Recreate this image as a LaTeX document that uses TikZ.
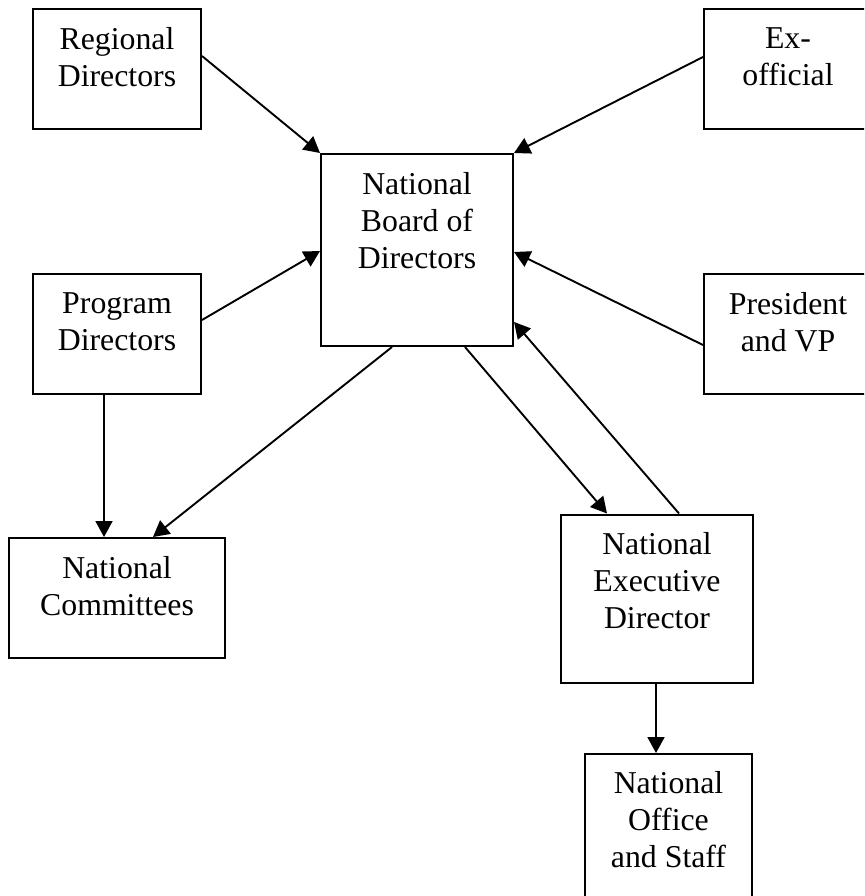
\documentclass[tikz,border=0pt]{standalone}
\usepackage{fontspec}
\setmainfont{Liberation Serif}
\usetikzlibrary{arrows.meta}
\tikzset{
  box/.style={draw, line width=2pt, inner sep=0pt, rectangle},
  wide/.style={minimum width=168pt, minimum height=120pt},
  tall/.style={minimum width=192pt, minimum height=168pt},
  boxtext/.style={anchor=north, align=center, inner sep=0pt, font=\fontsize{31.8}{37}\selectfont},
  arr/.style={line width=1.9pt, -{Triangle[length=16pt,width=17pt]}}
}
\begin{document}
\begin{tikzpicture}[x=1pt, y=-1pt]
\useasboundingbox (0,0) rectangle (864,896);
\clip (0,0) rectangle (864,896);
% boxes
\node[box, wide] (reg) at (117,69) {};
\node[box, wide] (ex) at (788,69) {};
\node[box, minimum width=192pt, minimum height=192pt] (board) at (417,250) {};
\node[box, wide] (prog) at (117,334) {};
\node[box, wide] (pres) at (788,334) {};
\node[box, minimum width=216pt, minimum height=120pt] (comm) at (117,598) {};
\node[box, tall] (ned) at (657,598.5) {};
\node[box, tall, minimum width=167pt] (off) at (668.5,838) {};
% texts
\node[boxtext] (regT) at ([yshift=-19pt]reg.north) {Regional\\Directors};
\node[boxtext] (exT) at ([yshift=-19.5pt]ex.north) {Ex-\\official};
\node[boxtext] (boardT) at ([yshift=-19pt]board.north) {National\\Board of\\Directors};
\node[boxtext] (progT) at ([yshift=-19.5pt]prog.north) {Program\\Directors};
\node[boxtext] (presT) at ([yshift=-19pt]pres.north) {President\\and VP};
\node[boxtext] (commT) at ([yshift=-19pt]comm.north) {National\\Committees};
\node[boxtext] (nedT) at ([yshift=-19pt]ned.north) {National\\Executive\\Director};
\node[boxtext] (offT) at ([yshift=-18.5pt]off.north) {National\\Office\\and Staff};
% connectors
\draw[arr] ([yshift=-48pt]reg.north east) -- (board.north west);
\draw[arr] ([yshift=-49pt]ex.north west) -- (board.north east);
\draw[arr] ([yshift=-47pt]prog.north east) -- ([yshift=-98pt]board.north west);
\draw[arr] ([yshift=-72pt]pres.north west) -- ([yshift=-99pt]board.north east);
\draw[arr] ([xshift=72pt]board.south west) -- ([xshift=145pt]comm.north west);
\draw[arr] ([xshift=72pt]prog.south west) -- ([xshift=96pt]comm.north west);
\draw[arr] ([xshift=145pt]board.south west) -- ([xshift=47pt]ned.north west);
\draw[arr] ([xshift=119pt]ned.north west) -- ([yshift=-169pt]board.north east);
\draw[arr] ([xshift=96pt]ned.south west) -- ([xshift=72pt]off.north west);
\end{tikzpicture}
\end{document}
